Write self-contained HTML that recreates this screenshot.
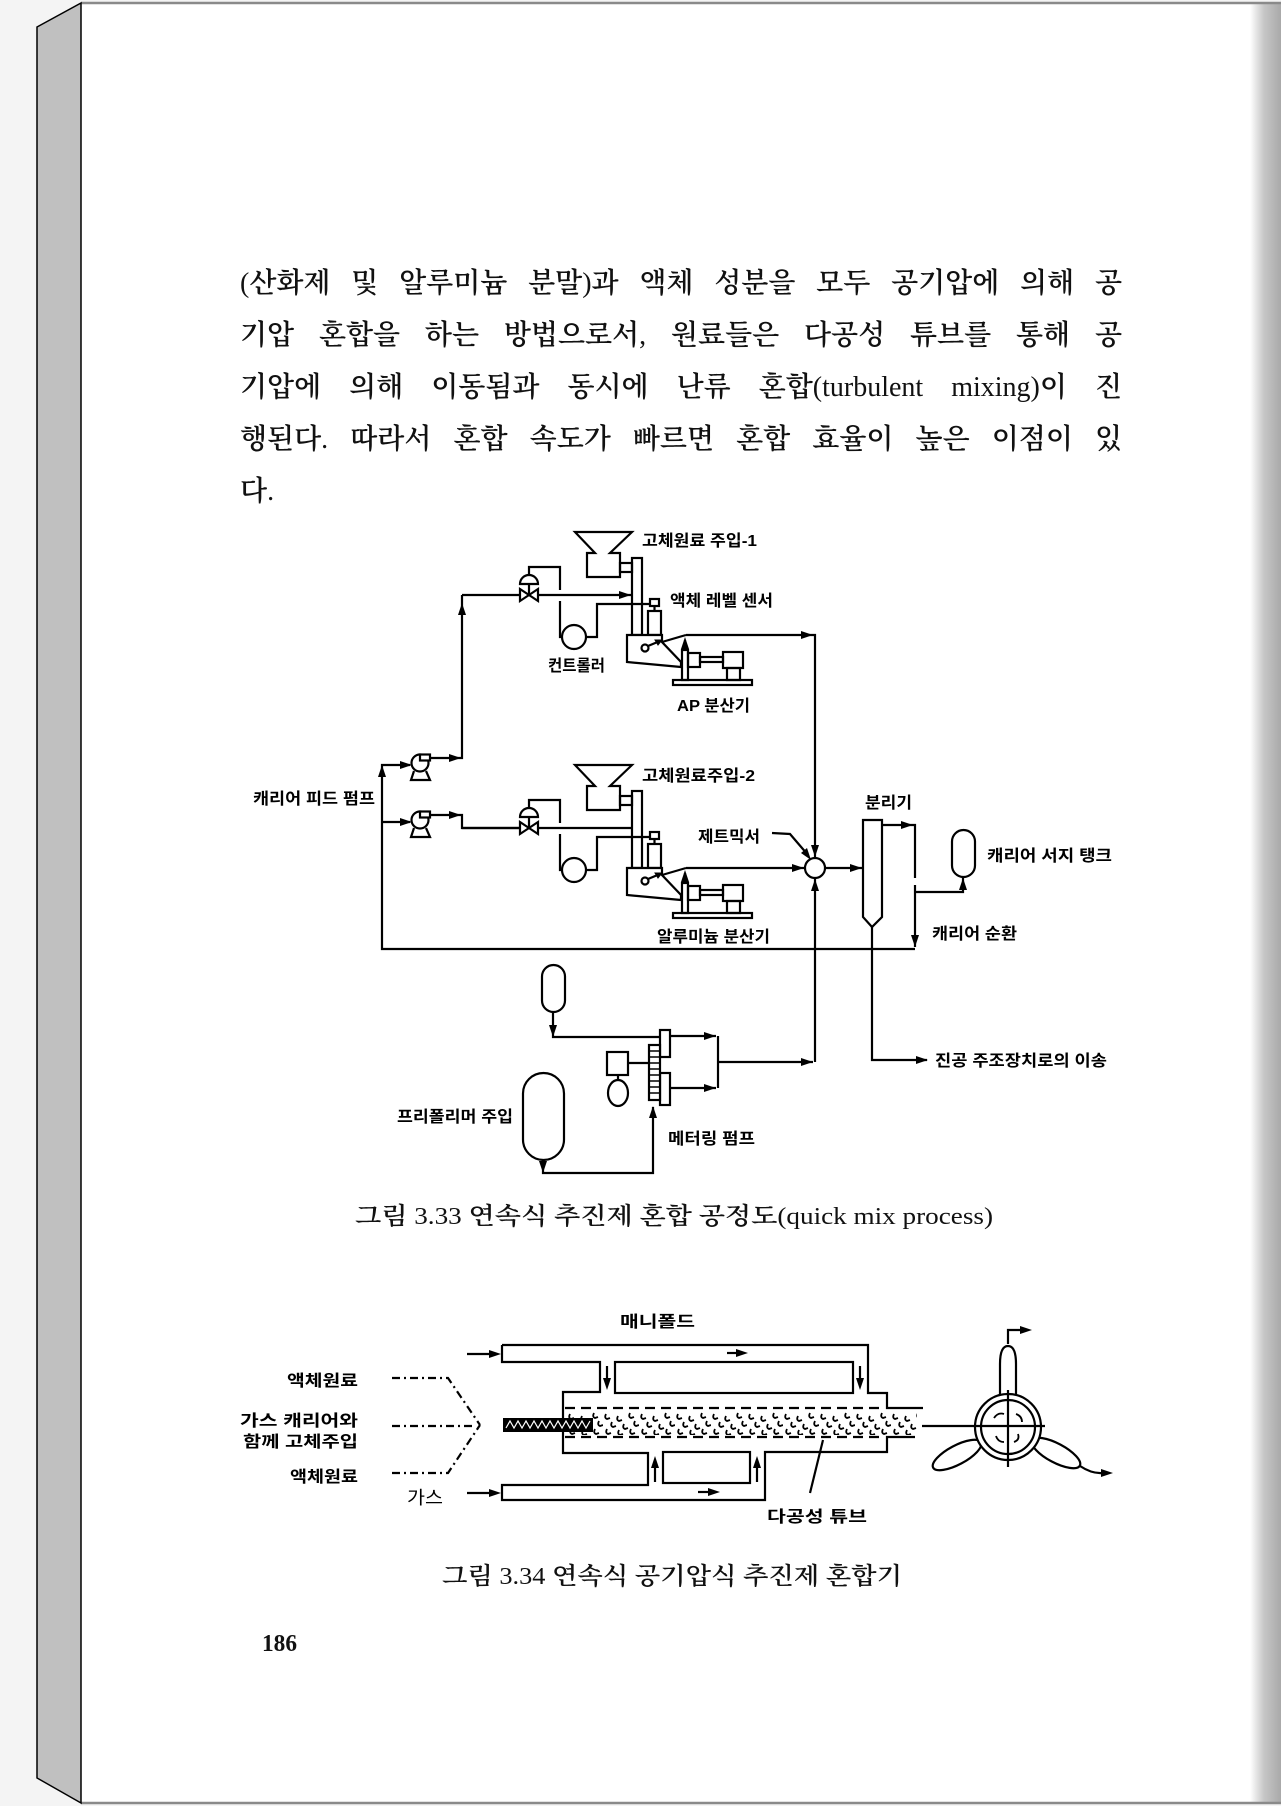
<!DOCTYPE html>
<html><head><meta charset="utf-8">
<style>
html,body{margin:0;padding:0;}
body{width:1281px;height:1806px;position:relative;overflow:hidden;background:#f4f4f4;}
svg{position:absolute;left:0;top:0;}
.ln{position:absolute;left:240px;width:882px;font-family:"Liberation Serif","Noto Serif CJK SC",serif;font-size:28px;font-weight:600;line-height:30px;text-align:justify;text-align-last:justify;color:#111;}
.ln .r{font-weight:normal;}
.l5{text-align:left;text-align-last:left;}
</style></head><body>
<svg width="1281" height="1806" viewBox="0 0 1281 1806">
<defs>
<linearGradient id="rg" x1="0" x2="1" y1="0" y2="0">
<stop offset="0" stop-color="#ffffff"/><stop offset="0.45" stop-color="#c6c6c6"/><stop offset="1" stop-color="#a9a9a9"/>
</linearGradient>
<pattern id="pp" patternUnits="userSpaceOnUse" x="567" y="1412" width="36" height="24">
<path d="M3,2 q-2,4 1,5 l3,-1 M15,4 q-2,4 1,5 l3,-1 M27,1 q-2,4 1,5 l3,-1 M9,10 q-2,4 1,5 l3,-1 M21,12 q-2,4 1,5 l3,-1 M32,9 q-2,4 1,5 l3,-1 M4,17 q-2,4 1,5 l3,-1 M16,18 q-2,4 1,5 l3,-1 M28,17 q-2,4 1,5 l3,-1" fill="none" stroke="#000" stroke-width="1.8"/>
</pattern>
<g id="sec" fill="none" stroke="#000" stroke-width="2.2">
 <polygon points="575,532 632,532 610,553 620,553 620,577 587,577 587,553 595,553" fill="#fff"/>
 <rect x="620" y="563" width="12" height="9"/>
 <rect x="632" y="558" width="10" height="77"/>
 <line x1="462" y1="595" x2="631" y2="595"/>
 <path d="M520,589 L538,601 L538,589 L520,601 Z" fill="#fff"/>
 <line x1="529" y1="595" x2="529" y2="584"/>
 <path d="M520,584 A9,9 0 0 1 538,584 Z" fill="#fff"/>
 <polyline points="529,575 529,567 560,567 560,590"/>
 <polyline points="560,601 560,637 562,637"/>
 <circle cx="574" cy="637" r="12" fill="#fff"/>
 <polyline points="586,637 597,637 597,604 650,604"/>
 <rect x="650" y="599" width="9" height="7"/>
 <line x1="654.5" y1="606" x2="654.5" y2="611"/>
 <rect x="648" y="611" width="13" height="24"/>
 <polygon points="627,635 662,635 662,642 681,662 681,667 627,662" fill="#fff"/>
 <line x1="662" y1="642" x2="686" y2="635"/>
 <circle cx="645" cy="648" r="3.5"/>
 <line x1="648" y1="646" x2="660" y2="641"/>
 <path d="M655,640 L662,640 L658,645 Z" fill="#000" stroke-width="1"/>
 <rect x="682" y="650" width="6" height="30" fill="#fff"/>
 <line x1="685" y1="650" x2="685" y2="640"/>
 <path d="M681,649 L685,637 L689,649 Z" fill="#000" stroke="none"/>
 <rect x="688" y="653" width="12" height="14"/>
 <rect x="700" y="657" width="23" height="5"/>
 <rect x="723" y="652" width="20" height="16"/>
 <rect x="727" y="668" width="13" height="12"/>
 <rect x="673" y="680" width="79" height="5"/>
</g>
</defs>

<!-- page frame -->
<rect x="0" y="0" width="1281" height="1806" fill="#f4f4f4"/>
<rect x="81" y="3" width="1180" height="1800" fill="#fff"/>
<rect x="1250" y="3" width="31" height="1800" fill="url(#rg)"/>
<line x1="81" y1="3" x2="1281" y2="3" stroke="#8a8a8a" stroke-width="2.5"/>
<line x1="81" y1="1803" x2="1281" y2="1803" stroke="#8a8a8a" stroke-width="2.5"/>
<polygon points="37,27 81,3 81,1803 37,1778" fill="#c0c0c0" stroke="#000" stroke-width="1.5"/>

<!-- FIGURE 3.33 -->
<use href="#sec"/>
<use href="#sec" transform="translate(0,233)"/>
<g fill="none" stroke="#000" stroke-width="2.2">
 <polyline points="915,949 382,949 382,765 410,765"/>
 <line x1="382" y1="822" x2="410" y2="822"/>
 <polyline points="428,758 462,758 462,595"/>
 <polyline points="428,815 462,815 462,828 520,828"/>
 <g fill="#fff">
  <path d="M414,771 L411,780 L430,780 L426,771"/>
  <circle cx="420" cy="763" r="8.5"/>
  <rect x="420" y="754.5" width="10" height="6"/>
  <path d="M414,828 L411,837 L430,837 L426,828"/>
  <circle cx="420" cy="820" r="8.5"/>
  <rect x="420" y="811.5" width="10" height="6"/>
 </g>
 <polyline points="686,635 815,635 815,857"/>
 <line x1="686" y1="868" x2="804" y2="868"/>
 <circle cx="815" cy="868" r="10" fill="#fff"/>
 <line x1="825" y1="868" x2="862" y2="868"/>
 <polyline points="815,1062 815,879"/>
 <polyline points="772,833 790,834 808,855"/>
 <path d="M863,820 L882,820 L882,917 L872,927 L863,917 Z" fill="#fff"/>
 <polyline points="882,825 915,825 915,878"/>
 <line x1="915" y1="885" x2="915" y2="947"/>
 <polyline points="915,892 963,892 963,878"/>
 <rect x="952" y="830" width="23" height="47" rx="11.5" fill="#fff"/>
 <polyline points="872,927 872,1060 927,1060"/>
 <rect x="542" y="965" width="23" height="47" rx="11.5" fill="#fff"/>
 <polyline points="553,1012 553,1037 660,1037"/>
 <rect x="660" y="1030" width="10" height="27" fill="#fff"/>
 <rect x="660" y="1073" width="10" height="32" fill="#fff"/>
 <rect x="649" y="1045" width="11" height="55" fill="#fff"/>
 <path d="M649,1051 H660 M649,1057 H660 M649,1063 H660 M649,1069 H660 M649,1075 H660 M649,1081 H660 M649,1087 H660 M649,1093 H660" stroke-width="1.6"/>
 <rect x="607" y="1052" width="21" height="23" fill="#fff"/>
 <line x1="628" y1="1063" x2="649" y2="1063"/>
 <line x1="618" y1="1075" x2="618" y2="1080"/>
 <ellipse cx="618" cy="1093" rx="10" ry="13" fill="#fff"/>
 <line x1="670" y1="1036" x2="716" y2="1036"/>
 <line x1="670" y1="1088" x2="716" y2="1088"/>
 <line x1="718" y1="1036" x2="718" y2="1088"/>
 <line x1="718" y1="1062" x2="813" y2="1062"/>
 <rect x="523" y="1073" width="41" height="87" rx="20.5" fill="#fff"/>
 <polyline points="543,1160 543,1173 653,1173 653,1107"/>
</g>
<g fill="#000">
 <path d="M619,591 L631,595 L619,599 Z"/>
 <path d="M801,631 L813,635 L801,639 Z"/>
 <path d="M811,845 L815,857 L819,845 Z"/>
 <path d="M792,864 L804,868 L792,872 Z"/>
 <path d="M850,864 L862,868 L850,872 Z"/>
 <path d="M901,821 L913,825 L901,829 Z"/>
 <path d="M911,935 L915,947 L919,935 Z"/>
 <path d="M959,890 L963,878 L967,890 Z"/>
 <path d="M916,1056 L928,1060 L916,1064 Z"/>
 <path d="M378,777 L382,765 L386,777 Z"/>
 <path d="M400,761 L412,765 L400,769 Z"/>
 <path d="M449,754 L461,758 L449,762 Z"/>
 <path d="M458,615 L462,603 L466,615 Z"/>
 <path d="M400,818 L412,822 L400,826 Z"/>
 <path d="M449,811 L461,815 L449,819 Z"/>
 <path d="M801,853 L811,860 L807,848 Z"/>
 <path d="M549,1025 L553,1037 L557,1025 Z"/>
 <path d="M704,1032 L716,1036 L704,1040 Z"/>
 <path d="M704,1084 L716,1088 L704,1092 Z"/>
 <path d="M801,1058 L813,1062 L801,1066 Z"/>
 <path d="M811,891 L815,879 L819,891 Z"/>
 <path d="M539,1161 L543,1173 L547,1161 Z"/>
 <path d="M649,1118 L653,1106 L657,1118 Z"/>
</g>
<g font-family="Liberation Sans, 'Noto Sans CJK KR', sans-serif" font-size="16" font-weight="bold" fill="#000">
 <text x="642" y="546" textLength="115" lengthAdjust="spacingAndGlyphs">고체원료 주입-1</text>
 <text x="670" y="606" textLength="103" lengthAdjust="spacingAndGlyphs">액체 레벨 센서</text>
 <text x="548" y="671" textLength="57" lengthAdjust="spacingAndGlyphs">컨트롤러</text>
 <text x="677" y="711" textLength="73" lengthAdjust="spacingAndGlyphs">AP 분산기</text>
 <text x="642" y="781" textLength="113" lengthAdjust="spacingAndGlyphs">고체원료주입-2</text>
 <text x="253" y="804" textLength="122" lengthAdjust="spacingAndGlyphs">캐리어 피드 펌프</text>
 <text x="865" y="808" textLength="47" lengthAdjust="spacingAndGlyphs">분리기</text>
 <text x="698" y="842" textLength="62" lengthAdjust="spacingAndGlyphs">제트믹서</text>
 <text x="987" y="861" textLength="125" lengthAdjust="spacingAndGlyphs">캐리어 서지 탱크</text>
 <text x="657" y="942" textLength="113" lengthAdjust="spacingAndGlyphs">알루미늄 분산기</text>
 <text x="932" y="939" textLength="85" lengthAdjust="spacingAndGlyphs">캐리어 순환</text>
 <text x="935" y="1066" textLength="172" lengthAdjust="spacingAndGlyphs">진공 주조장치로의 이송</text>
 <text x="397" y="1122" textLength="116" lengthAdjust="spacingAndGlyphs">프리폴리머 주입</text>
 <text x="668" y="1144" textLength="87" lengthAdjust="spacingAndGlyphs">메터링 펌프</text>
</g>
<text x="355" y="1224" font-family="Liberation Serif, 'Noto Serif CJK SC', serif" font-size="24" font-weight="600" fill="#111" textLength="638" lengthAdjust="spacingAndGlyphs">그림 <tspan font-weight="normal">3.33</tspan>  연속식 추진제 혼합 공정도<tspan font-weight="normal">(quick mix process)</tspan></text>

<!-- FIGURE 3.34 -->
<g fill="none" stroke="#000" stroke-width="2.2">
 <path d="M502,1345 H868 V1393 H887 V1408 H923"/>
 <path d="M502,1345 V1362 H600 V1392 H563 V1453 H648 V1485 H502 V1500 H765 V1452 H887 V1437 H915"/>
 <rect x="615" y="1362" width="238" height="31"/>
 <rect x="663" y="1452" width="87" height="31"/>
 <line x1="565" y1="1408" x2="882" y2="1408" stroke-dasharray="10 6"/>
 <line x1="565" y1="1437" x2="882" y2="1437" stroke-dasharray="10 6"/>
 <line x1="467" y1="1354" x2="492" y2="1354"/>
 <line x1="467" y1="1493" x2="492" y2="1493"/>
 <line x1="727" y1="1353" x2="740" y2="1353"/>
 <line x1="698" y1="1492" x2="712" y2="1492"/>
 <line x1="607" y1="1366" x2="607" y2="1382"/>
 <line x1="860" y1="1366" x2="860" y2="1382"/>
 <line x1="655" y1="1482" x2="655" y2="1464"/>
 <line x1="757" y1="1482" x2="757" y2="1464"/>
 <line x1="810" y1="1493" x2="823" y2="1440"/>
 <g stroke-dasharray="8 4 2 4">
  <polyline points="392,1378 448,1378 480,1425"/>
  <line x1="392" y1="1426" x2="476" y2="1426"/>
  <polyline points="392,1473 448,1473 480,1425"/>
 </g>
</g>
<rect x="567" y="1412" width="350" height="23" fill="url(#pp)"/>
<rect x="503" y="1418" width="90" height="14" fill="#000"/>
<polyline points="506,1428 510,1421 514,1428 518,1421 522,1428 526,1421 530,1428 534,1421 538,1428 542,1421 546,1428 550,1421 554,1428 558,1421 562,1428 566,1421 570,1428 574,1421 578,1428 582,1421 586,1428 590,1421" fill="none" stroke="#fff" stroke-width="1.2"/>
<g fill="#000">
 <path d="M489,1350 L501,1354 L489,1358 Z"/>
 <path d="M489,1489 L501,1493 L489,1497 Z"/>
 <path d="M736,1349 L748,1353 L736,1357 Z"/>
 <path d="M708,1488 L720,1492 L708,1496 Z"/>
 <path d="M603,1378 L607,1390 L611,1378 Z"/>
 <path d="M856,1378 L860,1390 L864,1378 Z"/>
 <path d="M651,1468 L655,1456 L659,1468 Z"/>
 <path d="M753,1468 L757,1456 L761,1468 Z"/>
</g>
<g fill="none" stroke="#000" stroke-width="2.2">
 <path d="M1000,1396 L1000,1364 Q1000,1346 1008,1346 Q1016,1346 1016,1364 L1016,1396" fill="#fff"/>
 <ellipse cx="957" cy="1455" rx="27" ry="9.5" transform="rotate(-28 957 1455)" fill="#fff"/>
 <ellipse cx="1056" cy="1453" rx="27" ry="9.5" transform="rotate(28 1056 1453)" fill="#fff"/>
 <circle cx="1008" cy="1427" r="33" fill="#fff"/>
 <circle cx="1008" cy="1427" r="27"/>
 <line x1="922" y1="1426" x2="1045" y2="1426"/>
 <line x1="1008" y1="1390" x2="1008" y2="1467"/>
 <path d="M994,1418 q4,-6 10,-4 M1016,1414 q6,2 6,8 M996,1436 q2,6 8,6 M1018,1434 q2,6 -4,8" stroke-width="1.8"/>
 <polyline points="1008,1344 1008,1330 1022,1330"/>
 <path d="M1080,1466 Q1092,1474 1103,1473"/>
</g>
<g fill="#000">
 <path d="M1020,1326 L1032,1330 L1020,1334 Z"/>
 <path d="M1101,1469 L1113,1473 L1101,1477 Z"/>
</g>
<g font-family="Liberation Sans, 'Noto Sans CJK KR', sans-serif" font-size="16" font-weight="bold" fill="#000">
 <text x="620" y="1327" textLength="75" lengthAdjust="spacingAndGlyphs">매니폴드</text>
 <text x="287" y="1386" textLength="71" lengthAdjust="spacingAndGlyphs">액체원료</text>
 <text x="240" y="1426" textLength="118" lengthAdjust="spacingAndGlyphs">가스 캐리어와</text>
 <text x="243" y="1447" textLength="115" lengthAdjust="spacingAndGlyphs">함께 고체주입</text>
 <text x="290" y="1482" textLength="68" lengthAdjust="spacingAndGlyphs">액체원료</text>
 <text x="407" y="1504" font-size="18" font-weight="normal" textLength="36" lengthAdjust="spacingAndGlyphs">가스</text>
 <text x="767" y="1522" textLength="100" lengthAdjust="spacingAndGlyphs">다공성 튜브</text>
</g>
<text x="442" y="1584" font-family="Liberation Serif, 'Noto Serif CJK SC', serif" font-size="24" font-weight="600" fill="#111" textLength="460" lengthAdjust="spacingAndGlyphs">그림 <tspan font-weight="normal">3.34</tspan>  연속식 공기압식 추진제 혼합기</text>
<text x="262" y="1651" font-family="Liberation Serif, serif" font-size="24" font-weight="bold" fill="#111" textLength="35" lengthAdjust="spacingAndGlyphs">186</text>
</svg>

<div class="ln" style="top:269px"><span class="r">(</span>산화제 및 알루미늄 분말<span class="r">)</span>과 액체 성분을 모두 공기압에 의해 공</div>
<div class="ln" style="top:321px">기압 혼합을 하는 방법으로서<span class="r">,</span> 원료들은 다공성 튜브를 통해 공</div>
<div class="ln" style="top:373px">기압에 의해 이동됨과 동시에 난류 혼합<span class="r">(turbulent mixing)</span>이 진</div>
<div class="ln" style="top:425px">행된다<span class="r">.</span> 따라서 혼합 속도가 빠르면 혼합 효율이 높은 이점이 있</div>
<div class="ln l5" style="top:477px">다<span class="r">.</span></div>
</body></html>
